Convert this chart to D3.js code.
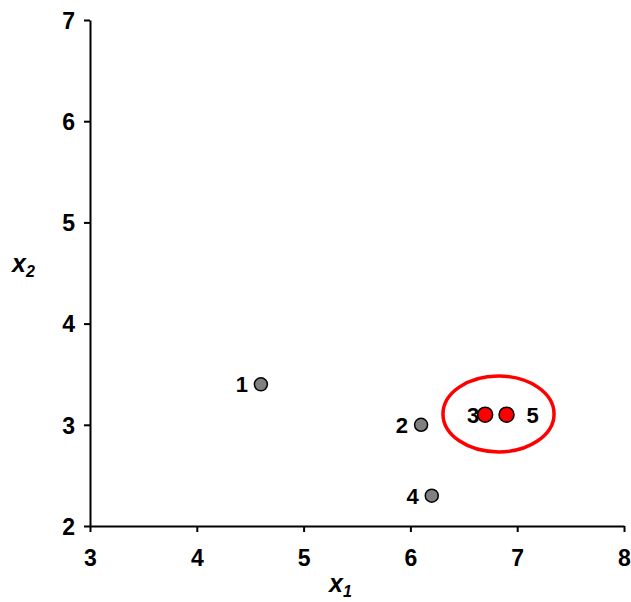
<!DOCTYPE html>
<html><head><meta charset="utf-8">
<script src="https://cdn.jsdelivr.net/npm/d3@7"></script>
<style>body{margin:0;background:#fff}svg{display:block}text{font-family:Arial,"Liberation Sans",sans-serif}</style>
</head><body>
<svg id="c" width="631" height="602"></svg>
<script>
const labels = ["1","2","3","4","5"];
const x1Values = [4.6, 6.1, 6.7, 6.2, 6.9];
const x2Values = [3.4, 3.0, 3.1, 2.3, 3.1];
const highlighted = [false, false, true, false, true];
const xTicks = [3,4,5,6,7,8];
const yTicks = [2,3,4,5,6,7];
const clusterCenter = [6.825, 3.107];
const clusterRadii = [0.52, 0.375];

const svg = d3.select("#c");
const x = d3.scaleLinear().domain([3,8]).range([90,624]);
const y = d3.scaleLinear().domain([2,7]).range([526,20]);

const xa = svg.append("g").attr("transform","translate(0,526)")
  .call(d3.axisBottom(x).tickValues(xTicks).tickSize(6).tickSizeOuter(0).tickFormat(d3.format("d")));
const ya = svg.append("g").attr("transform","translate(90,0)")
  .call(d3.axisLeft(y).tickValues(yTicks).tickSize(6).tickSizeOuter(0).tickFormat(d3.format("d")));
[xa,ya].forEach(a=>{
  a.select(".domain").attr("stroke","#000").attr("stroke-width",2);
  a.selectAll(".tick line").attr("stroke","#000").attr("stroke-width",2);
  a.selectAll(".tick text").attr("font-size",23).attr("font-weight","bold").attr("fill","#000")
   .attr("font-family","Arial, 'Liberation Sans', sans-serif");
});
xa.selectAll(".tick text").attr("dy","0").attr("y",40);
ya.selectAll(".tick text").attr("x",-15).attr("dy","0.36em");

// cluster ellipse
svg.append("ellipse")
  .attr("cx", x(clusterCenter[0])).attr("cy", y(clusterCenter[1]))
  .attr("rx", x(clusterCenter[0]+clusterRadii[0]) - x(clusterCenter[0]))
  .attr("ry", y(clusterCenter[1]) - y(clusterCenter[1]+clusterRadii[1]))
  .attr("fill","none").attr("stroke","#ff0000").attr("stroke-width",3.5);

const pts = labels.map((l,i)=>({l, a:x1Values[i], b:x2Values[i], h:highlighted[i]}));
svg.selectAll("circle.pt").data(pts).enter().append("circle").attr("class","pt")
  .attr("cx",d=>x(d.a)).attr("cy",d=>y(d.b))
  .attr("r",d=>d.h?7.5:6.5)
  .attr("fill",d=>d.h?"#ff0000":"#808080")
  .attr("stroke","#000").attr("stroke-width",1.5);

svg.selectAll("text.pl").data(pts).enter().append("text").attr("class","pl")
  .attr("x",d=>d.l==="5"? x(d.a)+20 : x(d.a)-(d.h?6:13))
  .attr("y",d=>y(d.b)).attr("dy","0.36em")
  .attr("text-anchor",d=>d.l==="5"?"start":"end")
  .attr("font-size",22).attr("font-weight","bold").text(d=>d.l);

// axis titles
const t1 = svg.append("text").attr("x",329).attr("y",592).attr("font-size",25)
  .attr("font-weight","bold").attr("font-style","italic");
t1.append("tspan").text("x");
t1.append("tspan").attr("font-size",16).attr("dy",5).text("1");
const t2 = svg.append("text").attr("x",12).attr("y",272).attr("font-size",25)
  .attr("font-weight","bold").attr("font-style","italic");
t2.append("tspan").text("x");
t2.append("tspan").attr("font-size",16).attr("dy",5).text("2");
</script>
</body></html>
